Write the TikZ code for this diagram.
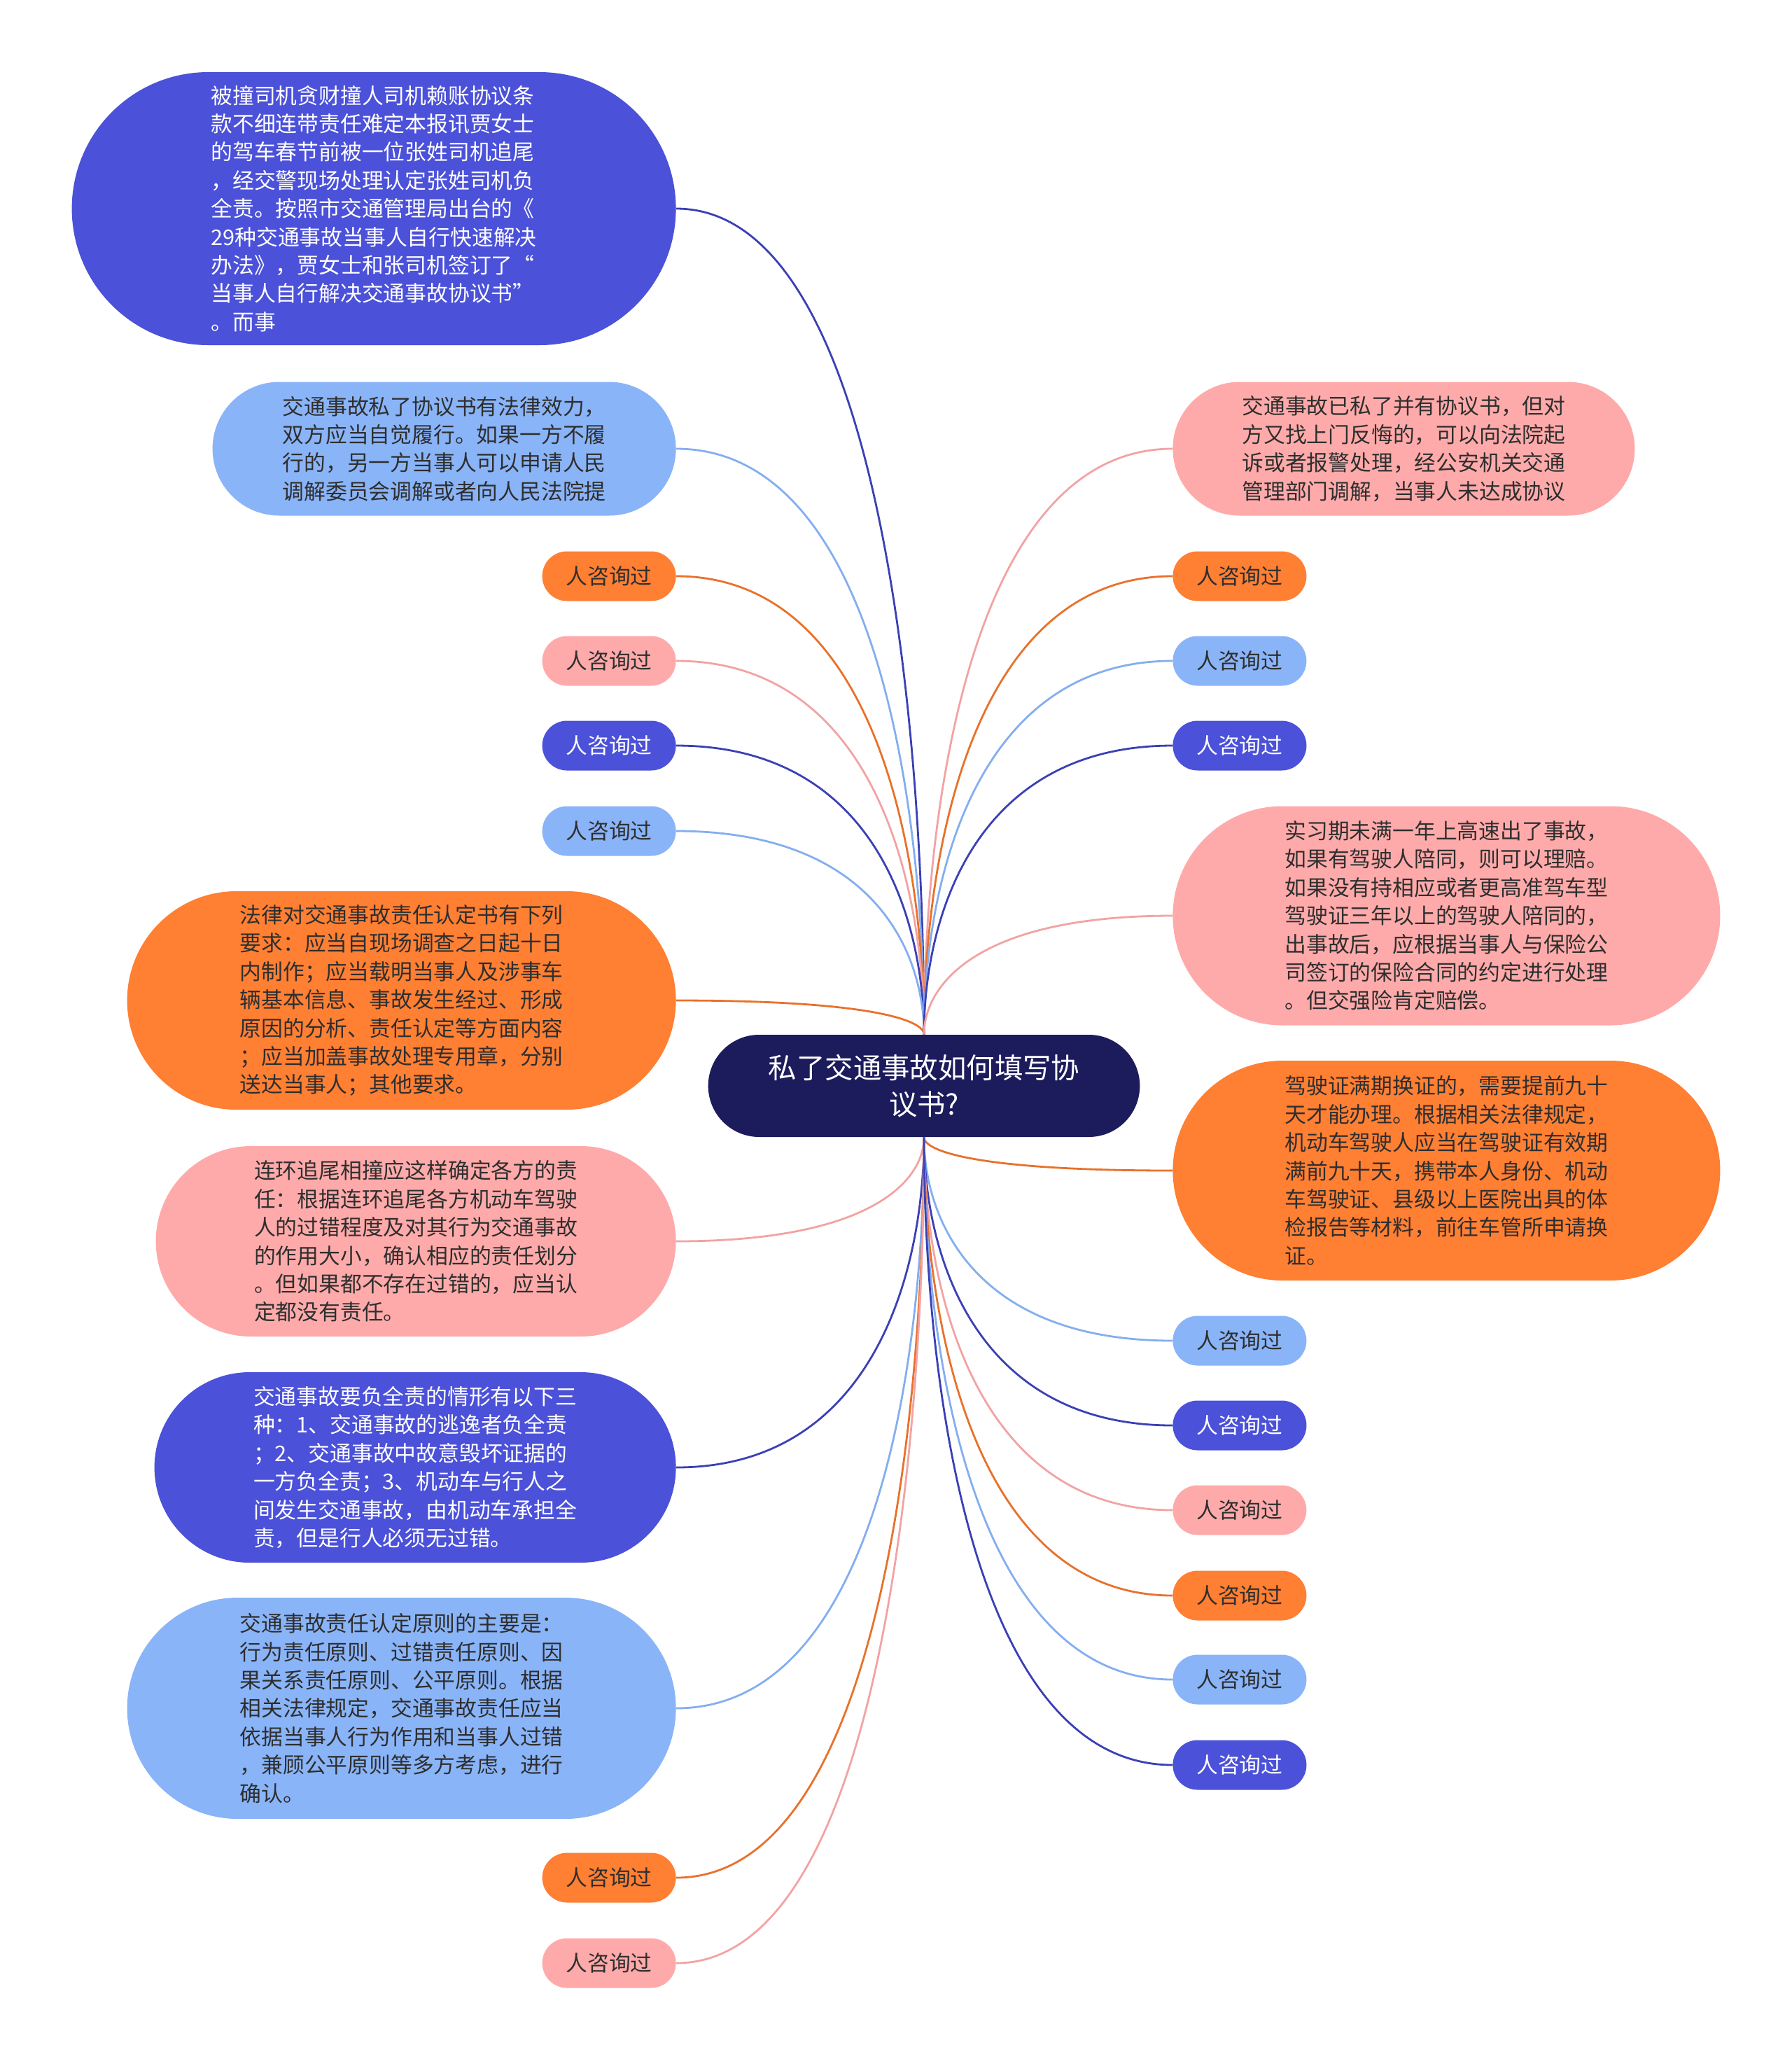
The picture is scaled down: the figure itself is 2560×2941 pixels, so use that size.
\documentclass[tikz,border=0pt]{standalone}
\usepackage{fontspec}
\setmainfont{Noto Sans CJK SC}
\usetikzlibrary{shapes.misc, positioning, calc, backgrounds}

\definecolor{navy}{HTML}{1C1B5C}
\definecolor{cblue}{HTML}{4B51D8}
\definecolor{eblue}{HTML}{3B40B5}
\definecolor{clight}{HTML}{8AB4F8}
\definecolor{elight}{HTML}{84AEEF}
\definecolor{corange}{HTML}{FF7F33}
\definecolor{eorange}{HTML}{E8712B}
\definecolor{cpink}{HTML}{FFAAAA}
\definecolor{epink}{HTML}{F2A3A3}
\definecolor{ink}{HTML}{2E2E2E}

\begin{document}
\begin{tikzpicture}[x=0.5pt, y=-0.5pt,
    topic/.style={rounded rectangle, fill=navy, text=white, font=\fontsize{20.2}{26}\selectfont, align=center, minimum width=315pt, minimum height=73pt},
    leaf/.style={rounded rectangle, inner sep=0pt, font=\fontsize{15.4}{20.2}\selectfont, align=left},
    ask/.style={leaf, minimum width=95.5pt, minimum height=35.5pt},
    bluebox/.style={fill=cblue, text=white},
    lightbox/.style={fill=clight, text=ink},
    orangebox/.style={fill=corange, text=ink},
    pinkbox/.style={fill=cpink, text=ink},
    branch/.style={line width=1.4pt, to path={.. controls ($(\tikztostart)!0.4!(\tikztostart |- \tikztotarget)$) and ($(\tikztotarget)!0.8!(\tikztostart |- \tikztotarget)$) .. (\tikztotarget)}}
]
\useasboundingbox (0,0) rectangle (2560,2941);

% Root
\node[topic] (root) at (1320,1551) {私了交通事故如何填写协\\议书?};

% Left side
\node[leaf, bluebox, anchor=east, minimum width=431.5pt, minimum height=195pt] (l1) at (966,298) {
被撞司机贪财撞人司机赖账协议条\\
款不细连带责任难定本报讯贾女士\\
的驾车春节前被一位张姓司机追尾\\
，经交警现场处理认定张姓司机负\\
全责。按照市交通管理局出台的《\\
29种交通事故当事人自行快速解决\\
办法》，贾女士和张司机签订了“\\
当事人自行解决交通事故协议书”\\
。而事};

\node[leaf, lightbox, anchor=east, minimum width=331pt, minimum height=95.5pt] (l2) at (966,641) {
交通事故私了协议书有法律效力，\\
双方应当自觉履行。如果一方不履\\
行的，另一方当事人可以申请人民\\
调解委员会调解或者向人民法院提};

\node[ask, orangebox, anchor=east] (l3) at (966,823) {人咨询过};
\node[ask, pinkbox, anchor=east] (l4) at (966,944) {人咨询过};
\node[ask, bluebox, anchor=east] (l5) at (966,1065) {人咨询过};
\node[ask, lightbox, anchor=east] (l6) at (966,1187) {人咨询过};

\node[leaf, orangebox, anchor=east, minimum width=392pt, minimum height=156pt] (l7) at (966,1429) {
法律对交通事故责任认定书有下列\\
要求：应当自现场调查之日起十日\\
内制作；应当载明当事人及涉事车\\
辆基本信息、事故发生经过、形成\\
原因的分析、责任认定等方面内容\\
；应当加盖事故处理专用章，分别\\
送达当事人；其他要求。};

\node[leaf, pinkbox, anchor=east, minimum width=371.5pt, minimum height=136pt] (l8) at (966,1773) {
连环追尾相撞应这样确定各方的责\\
任：根据连环追尾各方机动车驾驶\\
人的过错程度及对其行为交通事故\\
的作用大小，确认相应的责任划分\\
。但如果都不存在过错的，应当认\\
定都没有责任。};

\node[leaf, bluebox, anchor=east, minimum width=372.5pt, minimum height=136pt] (l9) at (966,2096) {
交通事故要负全责的情形有以下三\\
种：1、交通事故的逃逸者负全责\\
；2、交通事故中故意毁坏证据的\\
一方负全责；3、机动车与行人之\\
间发生交通事故，由机动车承担全\\
责，但是行人必须无过错。};

\node[leaf, lightbox, anchor=east, minimum width=392pt, minimum height=158pt] (l10) at (966,2440) {
交通事故责任认定原则的主要是：\\
行为责任原则、过错责任原则、因\\
果关系责任原则、公平原则。根据\\
相关法律规定，交通事故责任应当\\
依据当事人行为作用和当事人过错\\
，兼顾公平原则等多方考虑，进行\\
确认。};

\node[ask, orangebox, anchor=east] (l11) at (966,2682) {人咨询过};
\node[ask, pinkbox, anchor=east] (l12) at (966,2804) {人咨询过};

% Right side
\node[leaf, pinkbox, anchor=west, minimum width=330pt, minimum height=95.5pt] (r1) at (1675,641) {
交通事故已私了并有协议书，但对\\
方又找上门反悔的，可以向法院起\\
诉或者报警处理，经公安机关交通\\
管理部门调解，当事人未达成协议};

\node[ask, orangebox, anchor=west] (r2) at (1675,823) {人咨询过};
\node[ask, lightbox, anchor=west] (r3) at (1675,944) {人咨询过};
\node[ask, bluebox, anchor=west] (r4) at (1675,1065) {人咨询过};

\node[leaf, pinkbox, anchor=west, minimum width=391pt, minimum height=156.5pt] (r5) at (1675,1308) {
实习期未满一年上高速出了事故，\\
如果有驾驶人陪同，则可以理赔。\\
如果没有持相应或者更高准驾车型\\
驾驶证三年以上的驾驶人陪同的，\\
出事故后，应根据当事人与保险公\\
司签订的保险合同的约定进行处理\\
。但交强险肯定赔偿。};

\node[leaf, orangebox, anchor=west, minimum width=391pt, minimum height=157pt] (r6) at (1675,1672) {
驾驶证满期换证的，需要提前九十\\
天才能办理。根据相关法律规定，\\
机动车驾驶人应当在驾驶证有效期\\
满前九十天，携带本人身份、机动\\
车驾驶证、县级以上医院出具的体\\
检报告等材料，前往车管所申请换\\
证。};

\node[ask, lightbox, anchor=west] (r7) at (1675,1915) {人咨询过};
\node[ask, bluebox, anchor=west] (r8) at (1675,2036) {人咨询过};
\node[ask, pinkbox, anchor=west] (r9) at (1675,2157) {人咨询过};
\node[ask, orangebox, anchor=west] (r10) at (1675,2279) {人咨询过};
\node[ask, lightbox, anchor=west] (r11) at (1675,2399) {人咨询过};
\node[ask, bluebox, anchor=west] (r12) at (1675,2521) {人咨询过};

% Branches
\begin{scope}[on background layer]
\draw[branch, eblue] (root.north) to (l1.east);
\draw[branch, elight] (root.north) to (l2.east);
\draw[branch, eorange] (root.north) to (l3.east);
\draw[branch, epink] (root.north) to (l4.east);
\draw[branch, eblue] (root.north) to (l5.east);
\draw[branch, elight] (root.north) to (l6.east);
\draw[branch, eorange] (root.north) to (l7.east);
\draw[branch, epink] (root.south) to (l8.east);
\draw[branch, eblue] (root.south) to (l9.east);
\draw[branch, elight] (root.south) to (l10.east);
\draw[branch, eorange] (root.south) to (l11.east);
\draw[branch, epink] (root.south) to (l12.east);
\draw[branch, epink] (root.north) to (r1.west);
\draw[branch, eorange] (root.north) to (r2.west);
\draw[branch, elight] (root.north) to (r3.west);
\draw[branch, eblue] (root.north) to (r4.west);
\draw[branch, epink] (root.north) to (r5.west);
\draw[branch, eorange] (root.south) to (r6.west);
\draw[branch, elight] (root.south) to (r7.west);
\draw[branch, eblue] (root.south) to (r8.west);
\draw[branch, epink] (root.south) to (r9.west);
\draw[branch, eorange] (root.south) to (r10.west);
\draw[branch, elight] (root.south) to (r11.west);
\draw[branch, eblue] (root.south) to (r12.west);
\end{scope}
\end{tikzpicture}
\end{document}
